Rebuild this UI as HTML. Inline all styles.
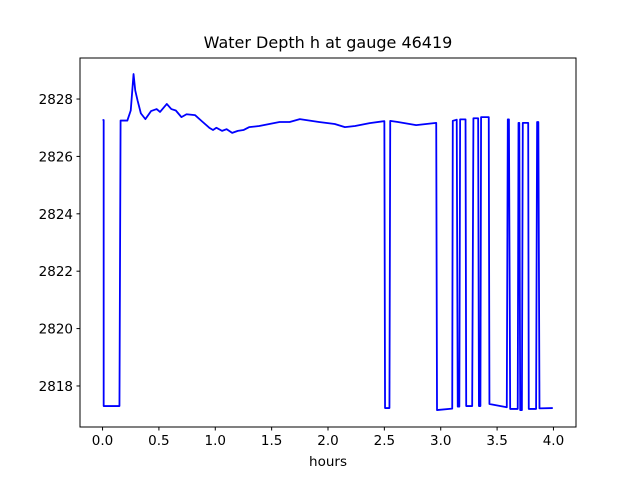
<!DOCTYPE html>
<html><head><meta charset="utf-8"><style>
body{margin:0;background:#fff}
svg text{font-family:"DejaVu Sans","Liberation Sans",sans-serif;fill:#000}
</style></head><body>
<svg id="c" width="640" height="480" xmlns="http://www.w3.org/2000/svg">
<rect width="640" height="480" fill="#fff"/>
<text x="328" y="48" text-anchor="middle" font-size="16">Water Depth h at gauge 46419</text>
<g id="ticks"></g>
<path id="line" fill="none" stroke="#0000ff" stroke-width="1.8" stroke-linejoin="round"/>
<rect x="80" y="58" width="496" height="369" fill="none" stroke="#000" stroke-width="1"/>
<text x="328" y="466" text-anchor="middle" font-size="13.5">hours</text>
</svg>
<script>
const hours=[0,0.01,0.01,0.15,0.16,0.22,0.25,0.275,0.29,0.31,0.34,0.38,0.43,0.48,0.51,0.57,0.61,0.65,0.70,0.745,0.82,0.88,0.95,0.98,1.01,1.06,1.10,1.15,1.20,1.25,1.30,1.39,1.48,1.57,1.66,1.75,1.92,2.06,2.15,2.24,2.37,2.50,2.506,2.545,2.552,2.62,2.782,2.96,2.967,3.102,3.107,3.142,3.151,3.165,3.172,3.22,3.226,3.279,3.29,3.332,3.339,3.352,3.358,3.426,3.432,3.586,3.595,3.605,3.616,3.683,3.69,3.697,3.705,3.72,3.728,3.776,3.781,3.846,3.855,3.866,3.876,3.994];
const depth=[2827.27,2827.27,2817.3,2817.3,2827.25,2827.25,2827.6,2828.87,2828.3,2827.96,2827.5,2827.3,2827.58,2827.65,2827.55,2827.83,2827.65,2827.6,2827.37,2827.47,2827.44,2827.23,2826.99,2826.92,2827.0,2826.89,2826.95,2826.82,2826.89,2826.92,2827.02,2827.06,2827.13,2827.2,2827.2,2827.3,2827.2,2827.13,2827.02,2827.06,2827.16,2827.23,2817.23,2817.23,2827.24,2827.2,2827.09,2827.17,2817.16,2817.21,2827.24,2827.28,2817.28,2817.28,2827.29,2827.29,2817.3,2817.3,2827.33,2827.33,2817.3,2817.3,2827.37,2827.37,2817.37,2817.26,2827.29,2827.29,2817.2,2817.2,2827.17,2827.17,2817.16,2817.16,2827.17,2827.17,2817.2,2817.2,2827.2,2827.2,2817.22,2817.23];
const xTicks=[0,0.5,1,1.5,2,2.5,3,3.5,4];
const xTickLabels=["0.0","0.5","1.0","1.5","2.0","2.5","3.0","3.5","4.0"];
const yTicks=[2818,2820,2822,2824,2826,2828];
const X=v=>80+(v+0.2)/4.4*496;
const Y=v=>427-(v-2816.57)/(2829.43-2816.57)*369;
const NS="http://www.w3.org/2000/svg";
const g=document.getElementById('ticks');
function mk(t,a){const e=document.createElementNS(NS,t);for(const k in a)e.setAttribute(k,a[k]);g.appendChild(e);return e;}
xTicks.forEach((t,i)=>{
 const l=mk('line',{x1:X(t),x2:X(t),y1:427,y2:430.5,stroke:'#000'});
 
 
 const tx=mk('text',{x:X(t),y:445,'text-anchor':'middle','font-size':'13.5'});
 tx.textContent=xTickLabels[i];
 
 
});
yTicks.forEach(t=>{
 const l=mk('line',{x1:76.5,x2:80,y1:Y(t),y2:Y(t),stroke:'#000'});
 
 
 const tx=mk('text',{x:73,y:Y(t)+5,'text-anchor':'end','font-size':'13.5'});
 tx.textContent=String(t);
 
 
});
document.getElementById('line').setAttribute('d',hours.map((h,i)=>(i?'L':'M')+X(h).toFixed(2)+' '+Y(depth[i]).toFixed(2)).join(''));
</script>
</body></html>
